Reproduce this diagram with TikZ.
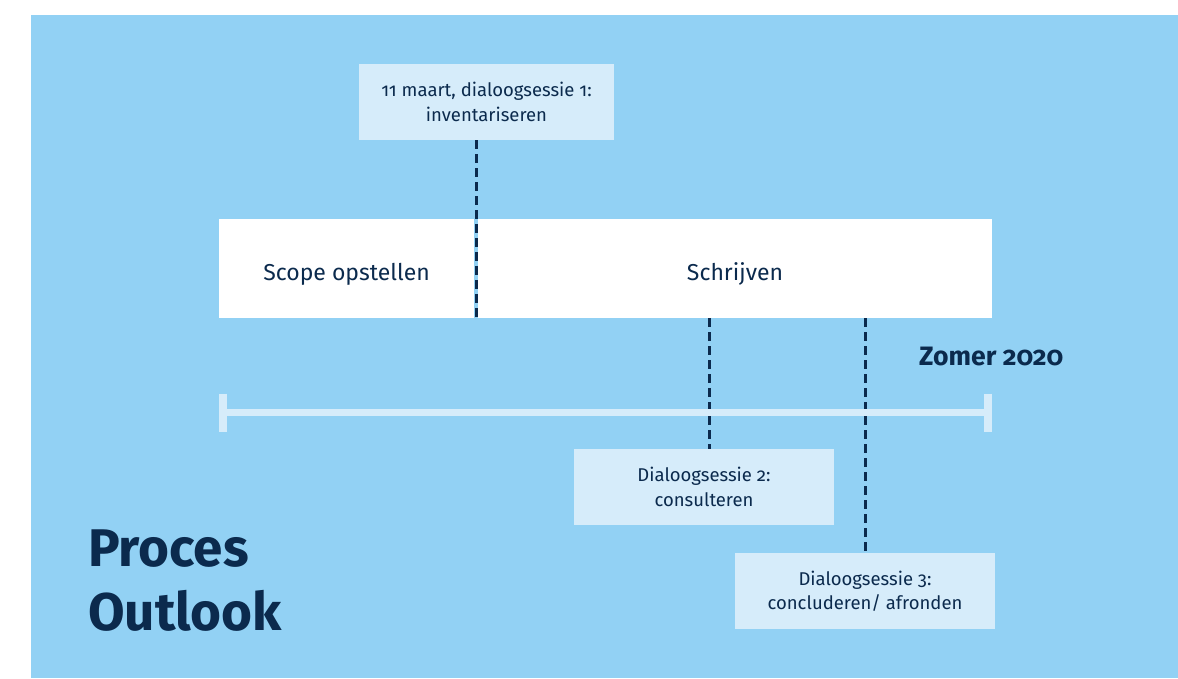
\documentclass[tikz,border=0pt]{standalone}
\usepackage{fontspec}
\setmainfont{Fira Sans}[Numbers=OldStyle]
\usetikzlibrary{positioning,calc}
\definecolor{skyblue}{HTML}{92D1F4}
\definecolor{paleblue}{HTML}{D6ECFA}
\definecolor{navy}{HTML}{0B2A4D}
\tikzset{
    sessionbox/.style={fill=paleblue, text=navy, minimum width=260, minimum height=76, inner sep=0pt, align=center, font=\fontsize{18.5}{24.5}\selectfont},
    phasebox/.style={fill=white, text=navy, minimum height=99, inner sep=0pt, text height=23pt, text depth=0pt, font=\fontsize{23}{28}\selectfont},
    marker/.style={navy, line width=3, dash pattern=on 9 off 5},
    timeline/.style={paleblue, line width=7},
    titletext/.style={anchor=base west, inner sep=0pt, text=navy, font=\fontsize{53}{64}\selectfont\bfseries}
}

\begin{document}
\begin{tikzpicture}[x=1pt,y=-1pt]
                \useasboundingbox (0,0) rectangle (1178,678);
                % Background
                \fill[skyblue] (31,15) rectangle (1178,678);
                % Phases
                \node[phasebox, minimum width=255] (scope) at (346.5,268.5) {Scope opstellen};
                \node[phasebox, minimum width=514] (schrijven) at (735,268.5) {Schrijven};
                % Sessions
                \node[sessionbox, minimum width=255] (sessie1) at (486.5,102) {11 maart, dialoogsessie 1:\\inventariseren};
                \node[sessionbox] (sessie2) at (704,487) {Dialoogsessie 2:\\consulteren};
                \node[sessionbox] (sessie3) at (865,591) {Dialoogsessie 3:\\concluderen/ afronden};
                % Markers
                \coordinate (m1) at (476.5,318);
                \coordinate (m2) at (709,318);
                \coordinate (m3) at (865,318);
                \draw[marker] (m1 |- sessie1.south) -- (m1);
                \draw[marker] (m2) -- (m2 |- sessie2.north);
                \draw[marker] (m3) -- (m3 |- sessie3.north);
                % Timeline
                \coordinate (t0) at (223,412.5);
                \coordinate (t1) at (988,412.5);
                \draw[timeline] (t0) -- (t1);
                \foreach \t in {t0,t1} {
                    \draw[paleblue, line width=8] ($(\t)+(0,-19)$) -- ($(\t)+(0,19)$);
                }
                \node[anchor=base west, inner sep=0pt, text=navy, font=\fontsize{26.6}{32}\selectfont\bfseries] (zomer) at (919,365) {Zomer 2020};
                % Title
                \node[titletext] (titel1) at (88,566) {Proces};
                \node[titletext] (titel2) at (88,630) {Outlook};
            \end{tikzpicture}
\end{document}
